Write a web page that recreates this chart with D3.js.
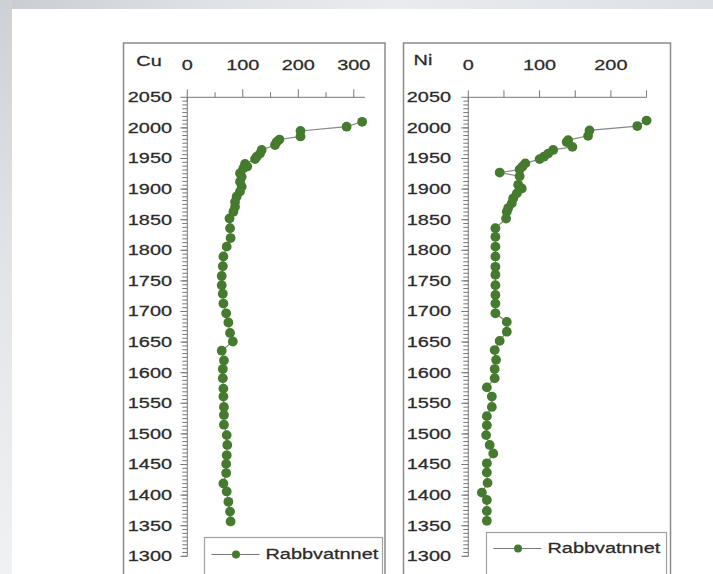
<!DOCTYPE html>
<html><head><meta charset="utf-8">
<script src="https://d3js.org/d3.v7.min.js"></script>
<style>body{margin:0;background:#fff}svg{display:block}</style>
</head><body>
<script>
// ---- data ----
const yearTicks = [2050,2000,1950,1900,1850,1800,1750,1700,1650,1600,1550,1500,1450,1400,1350,1300];
const cuTicks = [0,100,200,300];
const niTicks = [0,100,200];
const seriesName = "Rabbvatnnet";

const cuYears = [2010,2002,1995,1986,1981,1977,1972,1964,1958,1953,1949,1941,1937,1934,1926,1920,1912,1904,1896,1888,1879,1871,1863,1852,1836,1820,1806,1790,1774,1758,1743,1729,1713,1697,1682,1665,1651,1636,1620,1606,1591,1574,1561,1544,1531,1515,1498,1482,1465,1451,1436,1419,1406,1389,1373,1357];
const cuValues = [315,287,204,204,166,161,158,134,131,125,122,104,108,101,95,98,95,98,95,89,86,86,83,76,77,78,71,65,64,62,62,64,65,70,74,77,82,62,66,64,64,65,65,66,66,66,71,72,71,70,70,65,71,74,77,78];

const niYears = [2012,2003,1996,1987,1980,1977,1969,1964,1958,1953,1949,1942,1937,1932,1927,1921,1907,1901,1893,1885,1877,1869,1863,1852,1836,1822,1806,1790,1773,1760,1743,1727,1713,1697,1683,1667,1652,1637,1621,1606,1591,1576,1561,1544,1529,1514,1498,1482,1468,1452,1437,1420,1404,1392,1374,1358];
const niValues = [250,237,170,168,140,138,146,119,112,106,100,80,76,72,44,72,70,75,68,63,61,56,54,53,38,38,38,38,38,38,38,38,38,38,54,54,44,37,39,37,37,26,33,33,26,26,25,30,35,26,26,27,19,26,26,26];

// ---- drawing ----
const W = 713, H = 574;
const svg = d3.select("body").append("svg").attr("width", W).attr("height", H);
const defs = svg.append("defs");
const gTop = defs.append("linearGradient").attr("id","gtop").attr("x1",0).attr("x2",1).attr("y1",0).attr("y2",0);
gTop.append("stop").attr("offset","0%").attr("stop-color","#c9cdd2");
gTop.append("stop").attr("offset","30%").attr("stop-color","#dfe2e6");
gTop.append("stop").attr("offset","55%").attr("stop-color","#e9ebee");
gTop.append("stop").attr("offset","100%").attr("stop-color","#dde1e6");
const gLeft = defs.append("linearGradient").attr("id","gleft").attr("x1",0).attr("x2",0).attr("y1",0).attr("y2",1);
gLeft.append("stop").attr("offset","0%").attr("stop-color","#cdd1d6");
gLeft.append("stop").attr("offset","50%").attr("stop-color","#e3e6e9");
gLeft.append("stop").attr("offset","100%").attr("stop-color","#f0f1f3");

svg.append("rect").attr("width", W).attr("height", H).attr("fill", "#fff");
svg.append("rect").attr("x",0).attr("y",0).attr("width",W).attr("height",9).attr("fill","url(#gtop)");
svg.append("rect").attr("x",0).attr("y",0).attr("width",12).attr("height",H).attr("fill","url(#gleft)");

const TEXT = "#2b2b2b";
const FONT = "'Liberation Sans', Arial, sans-serif";
const SX = 1.42;
function label(parent, x, y, str, anchor) {
  parent.append("g").attr("transform", `translate(${x},${y}) scale(${SX},1)`)
    .append("text").attr("text-anchor", anchor).attr("dominant-baseline", "central")
    .attr("font-family", FONT).attr("font-size", 14).attr("fill", TEXT)
    .attr("stroke", TEXT).attr("stroke-width", 0.25).text(str);
}

const y = d3.scaleLinear().domain([2050, 1300]).range([97.3, 556.3]);
const AX = "#777";
const DOT = "#467a2f";

function panel(cfg) {
  const g = svg.append("g");
  g.append("rect").attr("x", cfg.boxX).attr("y", 43).attr("width", cfg.boxW).attr("height", 600)
    .attr("fill", "#fff").attr("stroke", "#8c8c8c").attr("stroke-width", 1.5);
  const x = d3.scaleLinear().domain([0, cfg.xMax]).range([cfg.x0, cfg.x0 + cfg.xMax * cfg.k]);
  label(g, cfg.nameX, cfg.nameY, cfg.name, "middle");
  // top x axis
  g.append("line").attr("x1", x(0)).attr("x2", x(cfg.xMax)).attr("y1", y(2050)).attr("y2", y(2050)).attr("stroke", AX);
  d3.range(0, cfg.xMax + 1, 50).forEach(v => {
    const major = v % 100 === 0;
    const len = cfg.allLong ? 7 : (major ? 8 : 5);
    g.append("line").attr("x1", x(v)).attr("x2", x(v)).attr("y1", y(2050) - len).attr("y2", y(2050) + (v === 0 ? 4 : 0)).attr("stroke", AX);
  });
  cfg.ticks.forEach(v => label(g, x(v), 65, String(v), "middle"));
  // left y axis
  g.append("line").attr("x1", x(0)).attr("x2", x(0)).attr("y1", y(2050)).attr("y2", y(1300)).attr("stroke", AX);
  d3.range(1300, 2050, 6.25).forEach(v => {
    g.append("line").attr("x1", x(0) - 5).attr("x2", x(0)).attr("y1", y(v)).attr("y2", y(v)).attr("stroke", AX);
  });
  yearTicks.forEach(v => {
    g.append("line").attr("x1", x(0) - 7).attr("x2", x(0)).attr("y1", y(v)).attr("y2", y(v)).attr("stroke", AX);
    label(g, cfg.labelR, y(v), String(v), "end");
  });
  // data
  const pts = cfg.years.map((yr, i) => [yr, cfg.values[i]]);
  g.append("path").datum(pts)
    .attr("d", d3.line().x(d => x(d[1])).y(d => y(d[0])))
    .attr("fill", "none").attr("stroke", "#888").attr("stroke-width", 1.2);
  g.selectAll("circle.pt").data(pts).join("circle").attr("class", "pt")
    .attr("cx", d => x(d[1])).attr("cy", d => y(d[0])).attr("r", 4.9).attr("fill", DOT);
  // legend
  const L = cfg.legend;
  g.append("rect").attr("x", L.x).attr("y", L.y).attr("width", L.w).attr("height", 80)
    .attr("fill", "#fff").attr("stroke", "#a0a0a0").attr("stroke-width", 1.2);
  g.append("line").attr("x1", L.x + 7).attr("x2", L.x + 55).attr("y1", L.y + L.dy).attr("y2", L.y + L.dy).attr("stroke", "#777").attr("stroke-width", 1.2);
  g.append("circle").attr("cx", L.x + 31.5).attr("cy", L.y + L.dy).attr("r", 4).attr("fill", DOT);
  label(g, L.x + 61, L.y + L.dy, seriesName, "start");
}

panel({name: "Cu", nameX: 149, nameY: 61, boxX: 123.5, boxW: 261.5, x0: 187.3, k: 0.555, xMax: 320,
  ticks: cuTicks, labelR: 172, years: cuYears, values: cuValues, allLong: false,
  legend: {x: 204.5, y: 537.5, w: 178, dy: 17}});
panel({name: "Ni", nameX: 423, nameY: 60, boxX: 403.5, boxW: 267, x0: 468.3, k: 0.713, xMax: 250,
  ticks: niTicks, labelR: 451, years: niYears, values: niValues, allLong: true,
  legend: {x: 486.5, y: 532.5, w: 180, dy: 16}});
</script>
</body></html>
